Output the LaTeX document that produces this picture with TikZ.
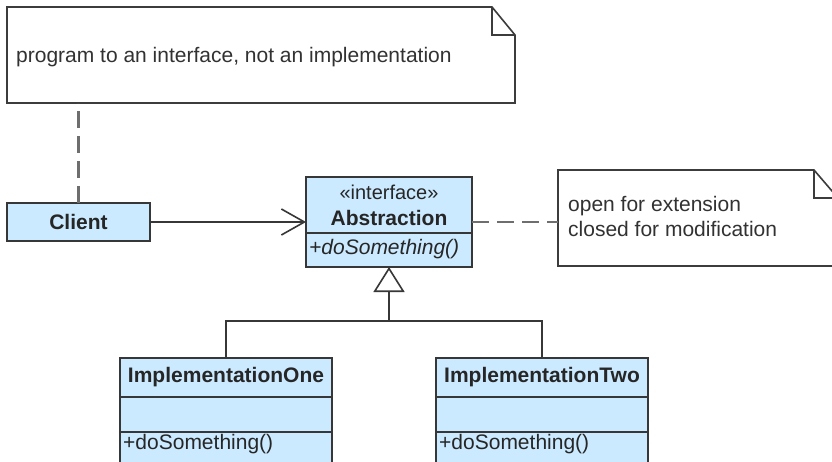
\documentclass[tikz,border=0pt]{standalone}
\usepackage{fontspec}
\setmainfont{Liberation Sans}
\usetikzlibrary{arrows.meta,calc}
\definecolor{clsfill}{RGB}{204,234,255}
\definecolor{edgec}{RGB}{55,55,55}
\definecolor{dashc}{RGB}{110,110,110}
\definecolor{notec}{RGB}{60,60,60}
\definecolor{notetxt}{RGB}{50,50,50}
\begin{document}
\begin{tikzpicture}[x=1pt,y=-1pt,
  font=\fontsize{21}{25}\selectfont,
  cls/.style={draw=edgec, line width=1.6pt, fill=clsfill, inner sep=0pt, outer sep=0pt, text=black!85},
  notebase/.style={inner sep=0pt, outer sep=0pt},
  notedraw/.style={draw=notec, line width=1.6pt, fill=white, line join=miter},
  notetext/.style={anchor=west, align=left, text=notetxt, inner sep=0pt},
  optext/.style={anchor=west, inner sep=0pt, text=black!85},
  conn/.style={draw=edgec, line width=1.6pt},
  dashline/.style={draw=dashc, line width=2.4pt, dash pattern=on 17pt off 8pt}]
\useasboundingbox (0,0) rectangle (832,462);
\clip (0,0) rectangle (832,462);
\fill[white] (0,0) rectangle (832,462);

% notes
\path node[notebase, minimum width=508pt, minimum height=96pt] (note1) at (261,55) {};
\draw[notedraw] (note1.south west) -- (note1.north west) -- ([xshift=-23pt]note1.north east)
  -- ([yshift=-28pt]note1.north east) -- (note1.south east) -- cycle;
\draw[notedraw, fill=none] ([xshift=-23pt]note1.north east) -- ([xshift=-23pt,yshift=-28pt]note1.north east) -- ([yshift=-28pt]note1.north east);
\node[notetext] (note1text) at ([xshift=9pt,yshift=-2pt]note1.west) {program to an interface, not an implementation};

\path node[notebase, minimum width=280pt, minimum height=96pt] (note2) at (698,218) {};
\draw[notedraw] (note2.south west) -- (note2.north west) -- ([xshift=-24pt]note2.north east)
  -- ([yshift=-28pt]note2.north east) -- (note2.south east) -- cycle;
\draw[notedraw, fill=none] ([xshift=-24pt]note2.north east) -- ([xshift=-24pt,yshift=-28pt]note2.north east) -- ([yshift=-28pt]note2.north east);
\node[notetext] (note2text) at ([xshift=10pt,yshift=2pt]note2.west) {open for extension\\closed for modification};

% classes
\node[cls, minimum width=143pt, minimum height=38pt, font=\fontsize{21}{25}\selectfont\bfseries] (client) at (78.5,222) {Client};

\node[cls, minimum width=166pt, minimum height=56pt, align=center, font=\fontsize{21}{26}\selectfont] (abshead) at (389,205) {{\fontsize{20}{26}\selectfont «interface»}\\\textbf{Abstraction}};
\node[cls, minimum width=166pt, minimum height=34pt, anchor=north] (absops) at (abshead.south) {};
\node[optext, font=\fontsize{21}{25}\selectfont\itshape] (absop) at ([xshift=3pt,yshift=1pt]absops.west) {+doSomething()};

\node[cls, minimum width=212pt, minimum height=39pt, font=\fontsize{21}{25}\selectfont\bfseries] (impl1) at (226,377.5) {ImplementationOne};
\node[cls, minimum width=212pt, minimum height=35pt, anchor=north] (impl1attr) at (impl1.south) {};
\node[cls, minimum width=212pt, minimum height=36pt, anchor=north] (impl1ops) at (impl1attr.south) {};
\node[optext] (impl1op) at ([xshift=3pt,yshift=6pt]impl1ops.west) {+doSomething()};

\node[cls, minimum width=212pt, minimum height=39pt, font=\fontsize{21}{25}\selectfont\bfseries] (impl2) at (542,377.5) {ImplementationTwo};
\node[cls, minimum width=212pt, minimum height=35pt, anchor=north] (impl2attr) at (impl2.south) {};
\node[cls, minimum width=212pt, minimum height=36pt, anchor=north] (impl2ops) at (impl2attr.south) {};
\node[optext] (impl2op) at ([xshift=3pt,yshift=6pt]impl2ops.west) {+doSomething()};

% connectors
\draw[dashline] (client.north) -- (client.north |- note1.south);
\draw[dashline] (abshead.east |- client.center) -- (note2.west |- client.center);
\draw[conn, -{Straight Barb[length=23pt,width=26pt]}] (client.east) -- (abshead.west |- client.center);
\coordinate (join) at (absops.south |- 0,321);
\draw[conn] (impl1.north) |- (join) -| (impl2.north);
\draw[conn, -{Triangle[open, length=25pt, width=31pt]}] (join) -- (absops.south);
\end{tikzpicture}
\end{document}
